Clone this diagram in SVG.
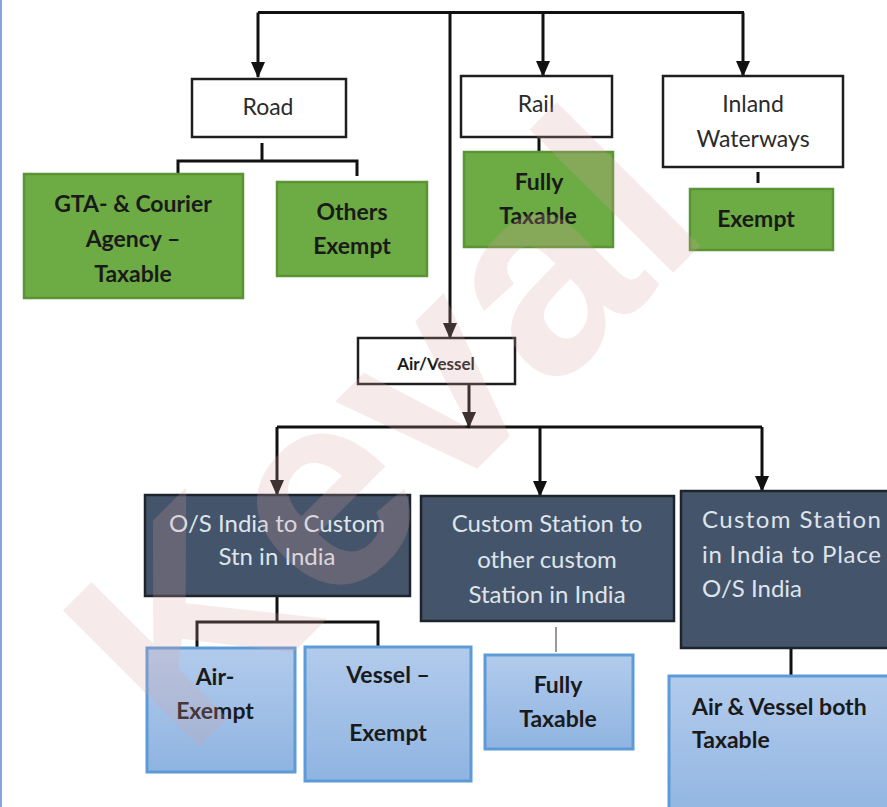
<svg xmlns="http://www.w3.org/2000/svg" width="887" height="807" viewBox="0 0 887 807">
  <defs>
    <marker id="arrow" markerUnits="userSpaceOnUse" markerWidth="16" markerHeight="16" viewBox="0 0 16 16" refX="15" refY="8" orient="auto">
      <path d="M0,1 L16,8 L0,15 Z" fill="#111"/>
    </marker>
    <linearGradient id="blueFill" x1="0" y1="0" x2="0" y2="1">
      <stop offset="0" stop-color="#b2cbec"/>
      <stop offset="1" stop-color="#8fb4e1"/>
    </linearGradient>
    <style>
      .white { fill: #ffffff; stroke: #1e1e1e; stroke-width: 2.5; }
      .green { fill: #6dab44; stroke: #5a9434; stroke-width: 2.5; }
      .slate { fill: #44546a; stroke: #1d242e; stroke-width: 2.5; }
      .blue { fill: url(#blueFill); stroke: #5d9bd8; stroke-width: 3; }
      .line { fill: none; stroke: #111; stroke-width: 3; }
      .thin { fill: none; stroke: #555; stroke-width: 1.2; }
      text { font-family: Lato, "Open Sans", "Liberation Sans", sans-serif; text-anchor: middle; }
      .lbl { font-size: 23px; fill: #2b2b2b; }
      .bold { font-size: 23px; font-weight: bold; fill: #1a1a1a; }
      .dark { font-size: 24px; fill: #dfe4ea; }
      .small { font-size: 17px; font-weight: bold; fill: #1a1a1a; }
      .left { text-anchor: start; }
      .mark { font-family: "Liberation Sans", sans-serif; font-weight: bold; font-size: 280px; fill: #d9a3a3; opacity: 0.22; text-anchor: start; }
    </style>
  </defs>

  <rect width="887" height="807" fill="#ffffff"/>
  <line x1="1" y1="0" x2="1" y2="807" stroke="#86a4e2" stroke-width="2"/>

  <g id="connectors">
    <!-- top bus and its drops -->
    <path class="line" d="M258,12.5 H744"/>
    <path class="line" d="M258,12.5 V77" marker-end="url(#arrow)"/>
    <path class="line" d="M543,12.5 V76" marker-end="url(#arrow)"/>
    <path class="line" d="M743,12.5 V76" marker-end="url(#arrow)"/>
    <path class="line" d="M450,12.5 V338" marker-end="url(#arrow)"/>
    <!-- road split -->
    <path class="line" d="M262,143 V161"/>
    <path class="line" d="M178,175 V161 H357 V176"/>
    <!-- rail and inland stubs -->
    <path class="line" d="M539,137 V152"/>
    <path class="line" d="M758,172 V183"/>
    <!-- air/vessel bus -->
    <path class="line" d="M469,385 V427" marker-end="url(#arrow)"/>
    <path class="line" d="M277,427 H762"/>
    <path class="line" d="M277,427 V495" marker-end="url(#arrow)"/>
    <path class="line" d="M540,427 V496" marker-end="url(#arrow)"/>
    <path class="line" d="M762,427 V491" marker-end="url(#arrow)"/>
    <!-- lower splits -->
    <path class="line" d="M277,596 V622"/>
    <path class="line" d="M197,648 V622 H378 V647"/>
    <path class="thin" d="M556,627 V652"/>
    <path class="line" d="M791,648 V676"/>
  </g>

  <g id="road">
    <rect class="white" x="192" y="79" width="154" height="58"/>
    <text class="lbl" x="268" y="115">Road</text>
  </g>
  <g id="rail">
    <rect class="white" x="461" y="76" width="151" height="61"/>
    <text class="lbl" x="536" y="112">Rail</text>
  </g>
  <g id="inland">
    <rect class="white" x="663" y="76" width="180" height="91"/>
    <text class="lbl" x="753" y="112">Inland</text>
    <text class="lbl" x="753" y="147">Waterways</text>
  </g>
  <g id="gta">
    <rect class="green" x="24" y="174" width="219" height="124"/>
    <text class="bold" x="133" y="212">GTA- &amp; Courier</text>
    <text class="bold" x="133" y="247">Agency –</text>
    <text class="bold" x="133" y="282">Taxable</text>
  </g>
  <g id="road-others">
    <rect class="green" x="277" y="182" width="150" height="94"/>
    <text class="bold" x="352" y="220">Others</text>
    <text class="bold" x="352" y="254">Exempt</text>
  </g>
  <g id="rail-taxable">
    <rect class="green" x="464" y="152" width="149" height="95"/>
    <text class="bold" x="539" y="190">Fully</text>
    <text class="bold" x="538" y="224">Taxable</text>
  </g>
  <g id="inland-exempt">
    <rect class="green" x="690" y="189" width="143" height="61"/>
    <text class="bold" x="756" y="227">Exempt</text>
  </g>
  <g id="air-vessel">
    <rect class="white" x="358" y="338" width="157" height="46"/>
    <text class="small" x="436" y="370">Air/Vessel</text>
  </g>
  <g id="os-to-india">
    <rect class="slate" x="145" y="495" width="265" height="101"/>
    <text class="dark" x="277" y="532">O/S India to Custom</text>
    <text class="dark" x="277" y="565">Stn in India</text>
  </g>
  <g id="station-to-station">
    <rect class="slate" x="421" y="496" width="253" height="125"/>
    <text class="dark" x="547" y="532">Custom Station to</text>
    <text class="dark" x="547" y="568">other custom</text>
    <text class="dark" x="547" y="603">Station in India</text>
  </g>
  <g id="india-to-os">
    <rect class="slate" x="681" y="491" width="220" height="157"/>
    <text class="dark left" x="702" y="528" textLength="179" lengthAdjust="spacing">Custom Station</text>
    <text class="dark left" x="702" y="563" textLength="179" lengthAdjust="spacing">in India to Place</text>
    <text class="dark left" x="702" y="597">O/S India</text>
  </g>
  <g id="air-exempt">
    <rect class="blue" x="147" y="648" width="148" height="124"/>
    <text class="bold" x="215" y="685">Air-</text>
    <text class="bold" x="215" y="719">Exempt</text>
  </g>
  <g id="vessel-exempt">
    <rect class="blue" x="305" y="647" width="166" height="134"/>
    <text class="bold" x="388" y="683">Vessel –</text>
    <text class="bold" x="388" y="741">Exempt</text>
  </g>
  <g id="station-taxable">
    <rect class="blue" x="485" y="655" width="148" height="94"/>
    <text class="bold" x="558" y="693">Fully</text>
    <text class="bold" x="558" y="727">Taxable</text>
  </g>
  <g id="both-taxable">
    <rect class="blue" x="669" y="676" width="240" height="150"/>
    <text class="bold left" x="692" y="715">Air &amp; Vessel both</text>
    <text class="bold left" x="692" y="748">Taxable</text>
  </g>

  <!-- faint diagonal watermark laid over the chart -->
  <text class="mark" x="186" y="760" transform="rotate(-45 186 760)">Keval</text>
</svg>
